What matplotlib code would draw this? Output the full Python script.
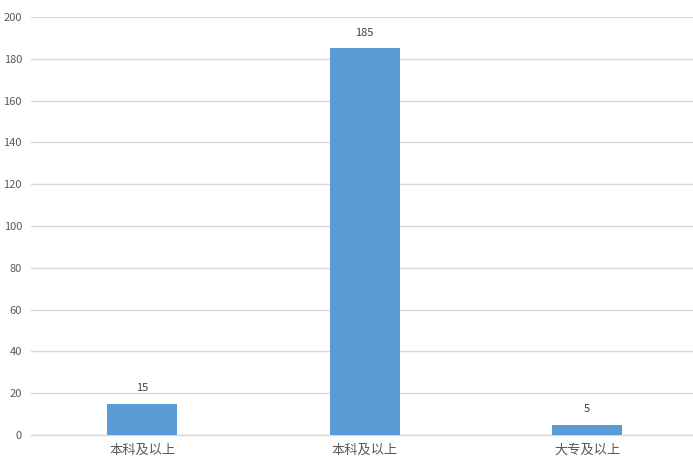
import matplotlib
matplotlib.use("Agg")
import matplotlib.pyplot as plt

plt.rcParams['font.family'] = ['Noto Sans CJK SC', 'DejaVu Sans']

categories = ['本科及以上', '本科及以上', '大专及以上']
values = [15, 185, 5]
yticks = [0, 20, 40, 60, 80, 100, 120, 140, 160, 180, 200]

W, H = 693, 466
fig = plt.figure(figsize=(W / 100, H / 100), dpi=100)
left = 31 / W
right = 1.0
bottom = 1 - 435 / H
top = 1 - 17 / H
ax = fig.add_axes([left, bottom, right - left, top - bottom])

x = list(range(len(categories)))
bars = ax.bar(x, values, width=0.315, color='#5B9BD5', zorder=3)
for xi, v in zip(x, values):
    ax.text(xi, v + 5, str(v), ha='center', va='bottom', fontsize=8, color='#404040')

ax.set_ylim(0, 200)
ax.set_xlim(-0.5, -0.5 + 662 / 222.5)
ax.set_yticks(yticks)
ax.set_xticks(x)
ax.set_xticklabels(categories, fontsize=9.5, color='#595959')
ax.tick_params(axis='y', labelsize=8, colors='#595959', length=0, pad=6.5)
ax.tick_params(axis='x', length=0, pad=6)
ax.grid(axis='y', color='#d9d9d9', linewidth=1, zorder=0)
for s in ['top', 'right', 'left']:
    ax.spines[s].set_visible(False)
ax.spines['bottom'].set_color('#d9d9d9')
ax.spines['bottom'].set_linewidth(1)

fig.savefig('out.png', dpi=100)
